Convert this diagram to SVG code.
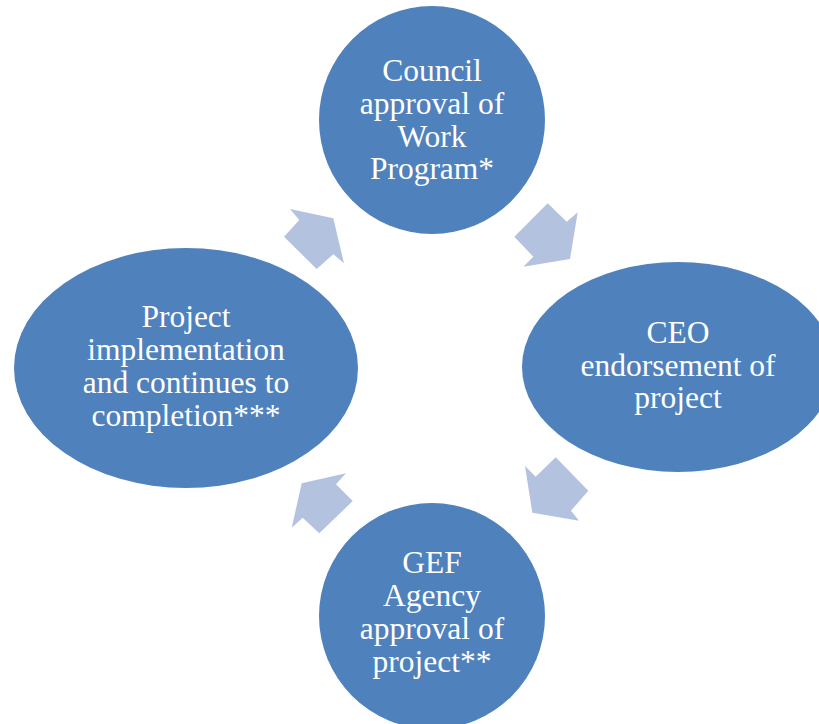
<svg xmlns="http://www.w3.org/2000/svg" width="819" height="724" viewBox="0 0 819 724">
<style>
.node{fill:#4F81BD}
.arr{fill:#B3C3DF}
</style>
<rect width="819" height="724" fill="#FFFFFF"/>
<g id="connectors">
<polygon class="arr" points="547.7,203.3 566.7,221.7 577.7,212.3 570,259 523.3,266.7 533.3,256.7 514.3,236.7"/>
<polygon class="arr" points="525,466 535.7,476.7 555.7,457.3 588.3,490.7 571,510.7 579,520.7 532.3,512.7"/>
<polygon class="arr" points="301.7,483.3 346,473.3 336,484.3 352.7,501 319.3,533.3 302.7,517.7 291.7,527.7"/>
<polygon class="arr" points="290,209 333.3,218.3 344,263.3 333.3,254.3 316.7,269 284,236.7 299.3,220"/>
</g>
<g id="council" font-family="Liberation Serif" font-size="31.5" fill="#FFFFFF" text-anchor="middle">
<ellipse class="node" cx="432" cy="120" rx="113" ry="114"/>
<text x="432" y="81">Council</text>
<text x="432" y="114">approval of</text>
<text x="432" y="147">Work</text>
<text x="432" y="179">Program*</text>
</g>
<g id="ceo" font-family="Liberation Serif" font-size="31.5" fill="#FFFFFF" text-anchor="middle">
<ellipse class="node" cx="678" cy="367" rx="156" ry="105"/>
<text x="678" y="343">CEO</text>
<text x="678" y="376">endorsement of</text>
<text x="678" y="408">project</text>
</g>
<g id="agency" font-family="Liberation Serif" font-size="31.5" fill="#FFFFFF" text-anchor="middle">
<ellipse class="node" cx="432" cy="616" rx="113" ry="113"/>
<text x="432" y="573">GEF</text>
<text x="432" y="606">Agency</text>
<text x="432" y="639">approval of</text>
<text x="432" y="672">project**</text>
</g>
<g id="implementation" font-family="Liberation Serif" font-size="31.5" fill="#FFFFFF" text-anchor="middle">
<ellipse class="node" cx="186" cy="368" rx="172" ry="120"/>
<text x="186" y="327">Project</text>
<text x="186" y="360">implementation</text>
<text x="186" y="393">and continues to</text>
<text x="186" y="426">completion***</text>
</g>
</svg>
